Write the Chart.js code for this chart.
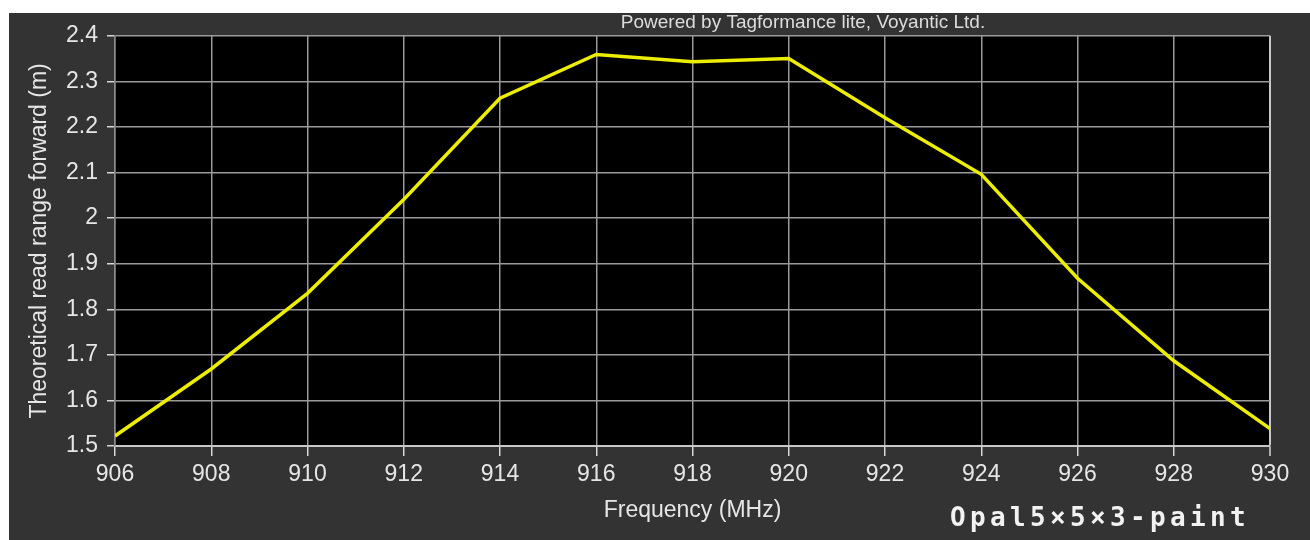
<!DOCTYPE html>
<html>
<head>
<meta charset="utf-8">
<script src="https://cdn.jsdelivr.net/npm/chart.js@4.4.1/dist/chart.umd.min.js"></script>
<style>
    body { margin: 0; background: #ffffff; width: 1310px; height: 540px; overflow: hidden; }
    #chart { position: absolute; left: 9px; top: 13px; }
</style>
</head>
<body>
<canvas id="chart" width="1301" height="527"></canvas>
<script>
// read range vs frequency
const freqs = [906, 908, 910, 912, 914, 916, 918, 920, 922, 924, 926, 928, 930];
const readRange = [1.522, 1.669, 1.835, 2.041, 2.263, 2.359, 2.343, 2.35, 2.22, 2.096, 1.868, 1.687, 1.538];

const xTitle = 'Frequency (MHz)';
const yTitle = 'Theoretical read range forward (m)';
const topNote = 'Powered by Tagformance lite, Voyantic Ltd.';
const tagName = 'Opal5×5×3-paint';

const FONT = '"Liberation Sans", Arial, sans-serif';

// gray panel + black plot area
const backdrop = {
    id: 'backdrop',
    beforeDraw(chart) {
        const { ctx, chartArea } = chart;
        ctx.save();
        ctx.fillStyle = '#333333';
        ctx.fillRect(0, 0, chart.width, chart.height);
        ctx.fillStyle = '#000000';
        ctx.fillRect(chartArea.left, chartArea.top, chartArea.right - chartArea.left, chartArea.bottom - chartArea.top);
        ctx.restore();
    }
};

// extra captions: credit on top, tag name bottom right
const captions = {
    id: 'captions',
    afterDraw(chart) {
        const ctx = chart.ctx;
        ctx.save();
        ctx.fillStyle = '#dcdcdc';
        ctx.font = '19px ' + FONT;
        ctx.textAlign = 'center';
        ctx.textBaseline = 'alphabetic';
        ctx.fillText(topNote, 794, 15);

        ctx.font = 'bold 26px "DejaVu Sans Mono", monospace';
        ctx.fillStyle = '#f2f2f2';
        ctx.textAlign = 'left';
        const w = ctx.measureText(tagName).width;
        const n = [...tagName].length;
        ctx.letterSpacing = ((300 - w) / n).toFixed(2) + 'px';
        ctx.fillText(tagName, 941, 513);
        ctx.restore();
    }
};

const ctx = document.getElementById('chart').getContext('2d');
new Chart(ctx, {
    type: 'line',
    data: {
        labels: freqs,
        datasets: [{
            data: freqs.map((f, i) => ({ x: f, y: readRange[i] })),
            borderColor: '#eded00',
            borderWidth: 3.5,
            pointRadius: 0,
            tension: 0,
            fill: false
        }]
    },
    options: {
        responsive: false,
        animation: false,
        devicePixelRatio: 1,
        layout: { padding: { top: 19, right: 40, left: 0, bottom: 0 } },
        plugins: { legend: { display: false }, tooltip: { enabled: false } },
        scales: {
            x: {
                type: 'linear',
                min: 906,
                max: 930,
                afterFit(scale) { scale.height = 94; },
                ticks: {
                    stepSize: 2,
                    color: '#e6e6e6',
                    font: { family: FONT, size: 23 },
                    padding: 5,
                    maxRotation: 0
                },
                grid: {
                    color: c => (c.tick && c.tick.value === 930) ? '#c8c8c8' : '#9a9a9a',
                    lineWidth: c => (c.tick && c.tick.value === 930) ? 2 : 1.5,
                    tickLength: 10,
                    tickColor: '#d8d8d8',
                    tickWidth: 1.5
                },
                border: { color: '#c8c8c8', width: 2 },
                title: {
                    display: true,
                    text: xTitle,
                    color: '#e6e6e6',
                    font: { family: FONT, size: 23 },
                    padding: { top: 0, bottom: 16 }
                }
            },
            y: {
                min: 1.5,
                max: 2.4,
                afterFit(scale) { scale.width = 106; },
                ticks: {
                    stepSize: 0.1,
                    color: '#e6e6e6',
                    font: { family: FONT, size: 23 },
                    padding: 9,
                    callback: v => String(Number(v.toFixed(1)))
                },
                grid: {
                    color: '#9a9a9a',
                    lineWidth: 1.5,
                    tickLength: 8,
                    tickColor: '#d8d8d8',
                    tickWidth: 1.5
                },
                border: { color: '#8a8a8a', width: 1.5 },
                title: {
                    display: true,
                    text: yTitle,
                    color: '#e6e6e6',
                    font: { family: FONT, size: 23 },
                    padding: { top: 17, bottom: 0 }
                }
            }
        }
    },
    plugins: [backdrop, captions]
});
</script>
</body>
</html>
